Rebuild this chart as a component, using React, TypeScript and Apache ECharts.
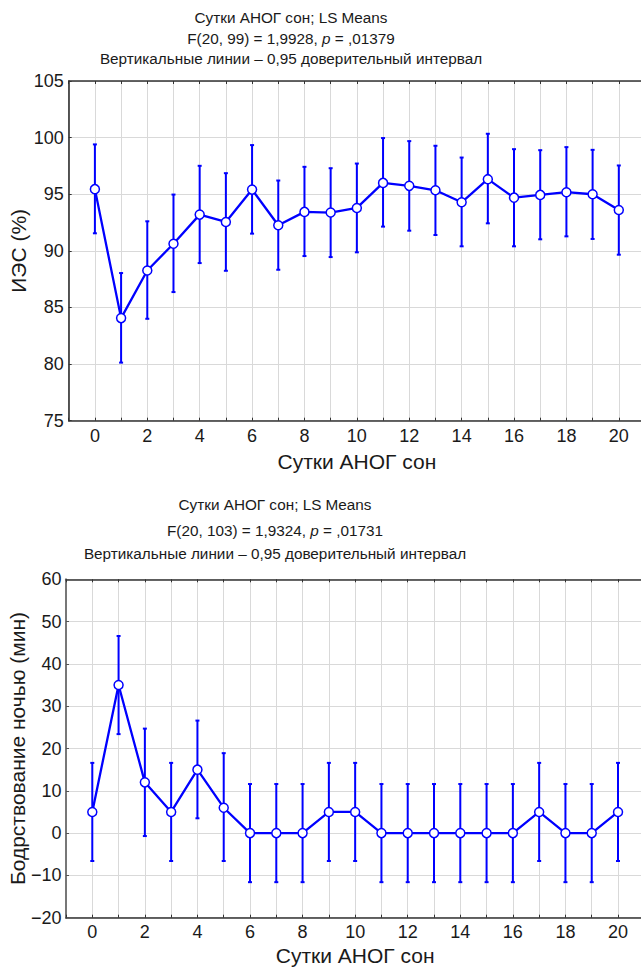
import React, { useEffect, useRef } from "react";
import * as echarts from "echarts";

const days = [0, 1, 2, 3, 4, 5, 6, 7, 8, 9, 10, 11, 12, 13, 14, 15, 16, 17, 18, 19, 20];

const iesMean = [95.45, 84.06, 88.27, 90.63, 93.2, 92.55, 95.41, 92.26, 93.44, 93.38, 93.79, 96.0, 95.74, 95.35, 94.29, 96.33, 94.7, 94.94, 95.18, 95.0, 93.61];
const iesLow = [91.55, 80.13, 84.0, 86.36, 88.92, 88.24, 91.52, 88.33, 89.54, 89.45, 89.87, 92.14, 91.78, 91.4, 90.4, 92.43, 90.4, 91.02, 91.28, 91.05, 89.66];
const iesHigh = [99.4, 88.04, 92.61, 94.97, 97.51, 96.86, 99.34, 96.21, 97.42, 97.3, 97.71, 99.96, 99.69, 99.28, 98.24, 100.34, 98.98, 98.89, 99.16, 98.92, 97.54];

const wakeMean = [5, 35, 12, 5, 15, 6, 0, 0, 0, 5, 5, 0, 0, 0, 0, 0, 0, 5, 0, 0, 5];
const wakeLow = [-6.6, 23.4, -0.7, -6.6, 3.5, -6.6, -11.6, -11.6, -11.6, -6.6, -6.6, -11.6, -11.6, -11.6, -11.6, -11.6, -11.6, -6.6, -11.6, -11.6, -6.6];
const wakeHigh = [16.6, 46.6, 24.7, 16.6, 26.6, 18.9, 11.6, 11.6, 11.6, 16.6, 16.6, 11.6, 11.6, 11.6, 11.6, 11.6, 11.6, 16.6, 11.6, 11.6, 16.6];

const title1 = ["Сутки АНОГ сон; LS Means", "F(20, 99) = 1,9928, {i|p} = ,01379", "Вертикальные линии – 0,95 доверительный интервал"];
const title2 = ["Сутки АНОГ сон; LS Means", "F(20, 103) = 1,9324, {i|p} = ,01731", "Вертикальные линии – 0,95 доверительный интервал"];
const xName = "Сутки АНОГ сон";
const yName1 = "ИЭС (%)";
const yName2 = "Бодрствование ночью (мин)";

const FONT = "'Liberation Sans', Arial, Helvetica, sans-serif";
const TXT = "#1a1a1a";
const BLUE = "#0000ff";

export default function App() {
  const ref = useRef<HTMLDivElement>(null);
  useEffect(() => {
    if (!ref.current) return;
    const chart = echarts.init(ref.current, undefined, { renderer: "svg" });

    const errRender = (params: any, api: any) => {
      const x = api.value(0);
      const lo = api.coord([x, api.value(1)]);
      const hi = api.coord([x, api.value(2)]);
      const c = 2;
      const st = { stroke: BLUE, lineWidth: 2 };
      return {
        type: "group",
        children: [
          { type: "line", shape: { x1: lo[0], y1: lo[1], x2: hi[0], y2: hi[1] }, style: st },
          { type: "line", shape: { x1: lo[0] - c, y1: lo[1], x2: lo[0] + c, y2: lo[1] }, style: st },
          { type: "line", shape: { x1: hi[0] - c, y1: hi[1], x2: hi[0] + c, y2: hi[1] }, style: st },
        ],
      };
    };

    const xLabelFmt = (v: number) => (v >= 0 && v <= 20 && v % 2 === 0 ? String(v) : "");

    const mkX = (gi: number, gap: number, lblMargin: number) => [
      {
        type: "value",
        gridIndex: gi,
        min: -1,
        max: 21,
        interval: 1,
        position: "bottom",
        name: xName,
        nameLocation: "middle",
        nameGap: gap,
        nameMoveOverlap: false,
        nameTextStyle: { fontFamily: FONT, fontSize: 21, color: TXT },
        axisLine: { show: true, onZero: false, lineStyle: { color: "#333", width: 1.5 } },
        axisTick: { show: true, inside: true, length: 3, lineStyle: { color: "#333" } },
        axisLabel: { formatter: xLabelFmt, fontFamily: FONT, fontSize: 18, color: TXT, margin: lblMargin, showMinLabel: true, showMaxLabel: true },
        splitLine: { show: true, lineStyle: { color: "#d9d9d9", width: 1 } },
      },
      {
        type: "value",
        gridIndex: gi,
        min: -1,
        max: 21,
        interval: 1,
        position: "top",
        axisLine: { show: true, onZero: false, lineStyle: { color: "#333", width: 1.5 } },
        axisTick: { show: true, inside: true, length: 3, lineStyle: { color: "#333" } },
        axisLabel: { show: false },
        splitLine: { show: false },
      },
    ];

    const titleEls = (lines: string[], cx: number, ys: number[]) =>
      lines.map((t, i) => ({
        type: "text",
        x: cx,
        y: ys[i],
        style: {
          text: t,
          fill: TXT,
          font: `15.3px ${FONT}`,
          textAlign: "center",
          textVerticalAlign: "middle",
          rich: { i: { fontStyle: "italic", fontSize: 15.3, fontFamily: FONT, fill: TXT } },
        },
      }));

    const option: any = {
      animation: false,
      backgroundColor: "#fff",
      grid: [
        { left: 68.7, top: 81, width: 576.3, height: 339.7, outerBoundsMode: "none", containLabel: false },
        { left: 66, top: 579.3, width: 578.3, height: 338.4, outerBoundsMode: "none", containLabel: false },
      ],
      xAxis: [...mkX(0, 30, 6), ...mkX(1, 27, 5)],
      yAxis: [
        {
          type: "value",
          gridIndex: 0,
          min: 75,
          max: 105,
          interval: 5,
          name: yName1,
          nameLocation: "middle",
          nameGap: 39.5,
          nameMoveOverlap: false,
          nameTextStyle: { fontFamily: FONT, fontSize: 21, color: TXT },
          axisLine: { show: true, onZero: false, lineStyle: { color: "#222", width: 1.5 } },
          axisTick: { show: true, inside: true, length: 3, lineStyle: { color: "#333" } },
          axisLabel: { fontFamily: FONT, fontSize: 18, color: TXT, margin: 5 },
          splitLine: { show: true, lineStyle: { color: "#d9d9d9", width: 1 } },
        },
        {
          type: "value",
          gridIndex: 1,
          min: -20,
          max: 60,
          interval: 10,
          name: yName2,
          nameLocation: "middle",
          nameGap: 38,
          nameMoveOverlap: false,
          nameTextStyle: { fontFamily: FONT, fontSize: 21, color: TXT },
          axisLine: { show: true, onZero: false, lineStyle: { color: "#777", width: 2 } },
          axisTick: { show: true, inside: true, length: 3, lineStyle: { color: "#555" } },
          axisLabel: {
            fontFamily: FONT,
            fontSize: 18,
            color: TXT,
            margin: 4.5,
            formatter: (v: number) => (v < 0 ? "\u2212" + Math.abs(v) : String(v)),
          },
          splitLine: { show: true, lineStyle: { color: "#d9d9d9", width: 1 } },
        },
      ],
      graphic: [...titleEls(title1, 291, [17.5, 38.5, 58.7]), ...titleEls(title2, 275, [504.5, 530, 553])],
      series: [
        {
          type: "custom",
          xAxisIndex: 0,
          yAxisIndex: 0,
          z: 1,
          renderItem: errRender,
          encode: { x: 0, y: [1, 2] },
          data: days.map((d, i) => [d, iesLow[i], iesHigh[i]]),
        },
        {
          type: "line",
          xAxisIndex: 0,
          yAxisIndex: 0,
          z: 3,
          data: days.map((d, i) => [d, iesMean[i]]),
          symbol: "circle",
          symbolSize: 9,
          lineStyle: { color: BLUE, width: 2.3 },
          itemStyle: { color: "#fff", borderColor: BLUE, borderWidth: 1.5 },
        },
        {
          type: "custom",
          xAxisIndex: 2,
          yAxisIndex: 1,
          z: 1,
          renderItem: errRender,
          encode: { x: 0, y: [1, 2] },
          data: days.map((d, i) => [d, wakeLow[i], wakeHigh[i]]),
        },
        {
          type: "line",
          xAxisIndex: 2,
          yAxisIndex: 1,
          z: 3,
          data: days.map((d, i) => [d, wakeMean[i]]),
          symbol: "circle",
          symbolSize: 9,
          lineStyle: { color: BLUE, width: 2.3 },
          itemStyle: { color: "#fff", borderColor: BLUE, borderWidth: 1.5 },
        },
      ],
    };
    chart.setOption(option);
    return () => chart.dispose();
  }, []);

  return (
    <div style={{ position: "absolute", left: 0, top: 0, width: 641, height: 967, overflow: "hidden", background: "#fff" }}>
      <div ref={ref} style={{ width: 660, height: 967 }} />
    </div>
  );
}
